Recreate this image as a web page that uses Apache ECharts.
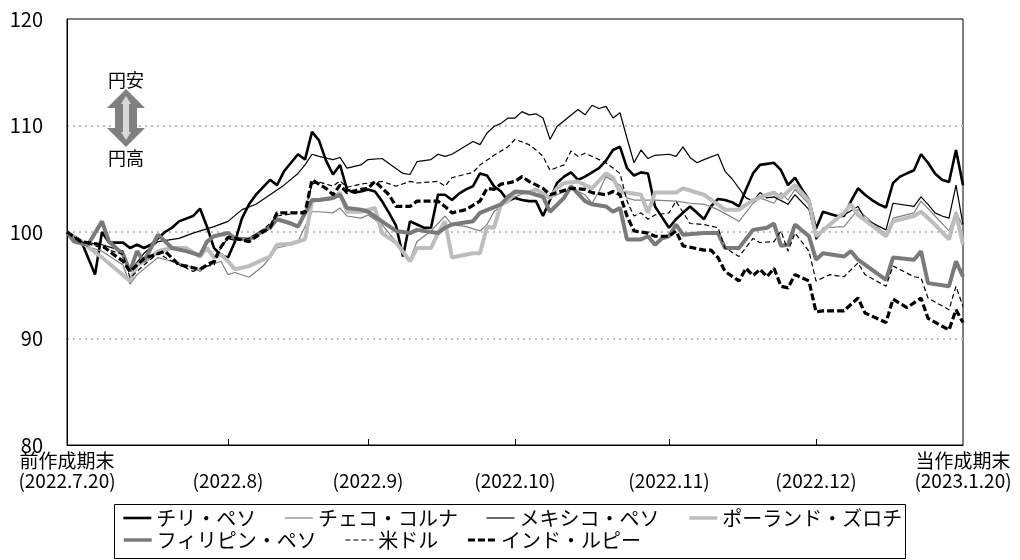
<!DOCTYPE html>
<html lang="ja">

<head>
  <meta charset="UTF-8">
  <title>通貨の推移</title>
  <style>
    html, body { margin: 0; padding: 0; background: #fff; }
    #chart { width: 1020px; height: 560px; }
  </style>
</head>

<body>
  <div id="chart"></div>
</body>
<script src="https://cdn.jsdelivr.net/npm/echarts@6/dist/echarts.min.js"></script>
<script>
  // 営業日インデックス 0〜128（前作成期末〜当作成期末）
  var dayCount = 129;
  var tickIdx = [0, 23, 43, 64, 86, 107, 128];
  var tickLabels = ['前作成期末\n(2022.7.20)', '\n(2022.8)', '\n(2022.9)', '\n(2022.10)',
    '\n(2022.11)', '\n(2022.12)', '当作成期末\n(2023.1.20)'];
  var yTicks = [80, 90, 100, 110, 120];

  var names = ['チリ・ペソ', 'チェコ・コルナ', 'メキシコ・ペソ', 'ポーランド・ズロチ',
    'フィリピン・ペソ', '米ドル', 'インド・ルピー'];

  // [日インデックス, 指数]
  var chile = [[0, 100], [2, 99.2], [4, 96.0], [5, 100.0], [6, 99.0], [8, 99.0], [9, 98.5], [10, 98.8], [11, 98.5],
    [12, 98.8], [14, 100.0], [15, 100.4], [16, 101.0], [18, 101.5], [19, 102.2], [20, 100.5], [21, 98.5], [22, 97.8],
    [23, 97.6], [24, 99.1], [25, 101.3], [26, 102.6], [27, 103.5], [29, 104.9], [30, 104.4], [31, 105.7], [33, 107.3],
    [34, 106.8], [35, 109.4], [36, 108.6], [37, 106.7], [38, 105.4], [39, 106.3], [40, 104.0], [41, 103.7], [42, 103.8],
    [43, 104.0], [44, 103.8], [45, 102.9], [46, 101.8], [47, 100.6], [48, 97.7], [49, 101.0], [50, 100.7], [51, 100.4],
    [52, 100.4], [53, 103.5], [54, 103.5], [55, 103.0], [56, 103.6], [57, 104.0], [58, 104.3], [59, 105.5], [60, 105.3],
    [61, 104.3], [62, 103.8], [63, 102.9], [64, 103.2], [65, 103.0], [66, 102.9], [67, 102.9], [68, 101.5], [69, 103.0],
    [70, 104.6], [71, 105.2], [72, 105.6], [73, 104.9], [74, 105.2], [75, 105.6], [76, 106.0], [77, 106.7], [78, 107.7],
    [79, 108.0], [80, 106.0], [81, 105.3], [82, 105.6], [83, 105.5], [84, 102.4], [85, 101.4], [86, 100.4], [87, 101.2],
    [88, 101.8], [89, 102.4], [90, 101.8], [91, 101.2], [92, 102.4], [93, 103.1], [94, 103.0], [95, 102.8], [96, 102.4],
    [97, 104.0], [98, 105.5], [99, 106.3], [100, 106.4], [101, 106.5], [102, 105.8], [103, 104.4], [104, 105.1],
    [105, 104.0], [106, 103.0], [107, 100.3], [108, 101.9], [109, 101.7], [110, 101.5], [111, 101.5], [112, 102.9],
    [113, 104.1], [114, 103.5], [115, 103.0], [116, 102.6], [117, 102.3], [118, 104.6], [119, 105.2], [120, 105.5],
    [121, 105.8], [122, 107.3], [123, 106.5], [124, 105.5], [125, 104.9], [126, 104.7], [127, 107.7], [128, 104.4]];

  var czech = [[0, 100], [2, 98.8], [5, 98.2], [8, 96.9], [9, 95.1], [10, 96.0], [13, 97.6], [15, 97.25], [17, 96.9],
    [19, 96.3], [20, 96.8], [22, 97.25], [23, 96.0], [24, 96.2], [26, 95.75], [28, 96.8], [29, 97.6], [30, 98.5],
    [32, 98.8], [33, 99.1], [35, 101.9], [36, 101.9], [38, 101.8], [39, 102.25], [40, 101.5], [42, 101.3], [43, 101.6],
    [45, 100.7], [47, 99.1], [48, 98.0], [49, 97.4], [50, 99.1], [52, 100.1], [54, 101.5], [55, 100.7], [57, 100.5],
    [59, 100.1], [60, 100.7], [61, 101.9], [63, 103.0], [64, 103.3], [66, 103.8], [69, 103.2], [70, 103.5], [72, 104.1],
    [74, 103.5], [75, 102.7], [76, 103.8], [77, 105.2], [79, 104.4], [80, 103.2], [81, 103.0], [83, 103.0], [84, 103.0],
    [87, 102.9], [89, 102.7], [91, 102.6], [93, 102.1], [96, 101.0], [98, 102.7], [99, 103.2], [101, 102.7], [102, 103.7],
    [103, 103.0], [104, 104.0], [106, 102.6], [107, 99.4], [108, 100.4], [111, 100.5], [113, 102.1], [117, 99.75],
    [118, 101.3], [121, 101.8], [122, 102.9], [124, 101.5], [126, 100.1], [127, 101.9], [128, 100.5]];

  var mexico = [[0, 100], [2, 99.1], [5, 98.8], [8, 98.2], [9, 96.3], [11, 98.0], [13, 99.1], [16, 99.4], [18, 99.9],
    [21, 100.5], [23, 101.0], [25, 102.1], [27, 102.6], [29, 103.5], [31, 104.4], [33, 105.5], [34, 106.3], [35, 107.3],
    [36, 107.1], [38, 106.8], [39, 107.0], [40, 106.0], [42, 106.3], [43, 106.8], [45, 106.9], [48, 105.5], [49, 105.4],
    [50, 106.6], [52, 106.8], [53, 107.3], [54, 107.1], [55, 107.3], [56, 107.7], [58, 108.5], [59, 108.2], [60, 109.3],
    [61, 109.9], [62, 110.2], [63, 110.7], [64, 110.7], [65, 111.3], [66, 111.0], [67, 111.1], [68, 110.7], [69, 108.7],
    [70, 109.9], [73, 111.5], [74, 111.0], [75, 111.9], [76, 111.6], [77, 111.8], [78, 110.7], [79, 111.2], [80, 108.8],
    [81, 106.5], [82, 107.7], [83, 106.9], [84, 107.2], [86, 107.3], [87, 107.1], [88, 108.0], [89, 107.0], [90, 106.5],
    [91, 106.8], [93, 107.3], [94, 105.7], [95, 105.0], [97, 103.2], [98, 102.9], [99, 103.7], [100, 103.2],
    [101, 103.3], [103, 102.6], [104, 103.5], [106, 102.1], [107, 99.3], [109, 100.8], [111, 101.6], [113, 102.4],
    [114, 101.2], [117, 100.2], [118, 102.7], [121, 102.4], [122, 103.3], [123, 102.6], [124, 101.8], [125, 101.5],
    [126, 101.3], [127, 104.4], [128, 100.7]];

  var poland = [[0, 100], [2, 99.1], [5, 97.6], [9, 95.4], [10, 96.9], [12, 97.6], [13, 98.2], [15, 98.5], [17, 98.5],
    [19, 97.7], [20, 98.5], [21, 97.6], [22, 97.9], [23, 97.25], [24, 96.5], [26, 96.8], [28, 97.4], [29, 97.7],
    [30, 98.8], [32, 98.9], [34, 99.3], [35, 102.9], [36, 103.0], [38, 103.2], [39, 103.7], [40, 101.9], [42, 101.9],
    [44, 102.25], [45, 99.9], [47, 99.0], [49, 97.25], [50, 98.5], [52, 98.5], [53, 99.9], [54, 101.0], [55, 97.6],
    [58, 98.0], [59, 98.0], [60, 100.5], [61, 100.4], [62, 102.6], [63, 102.9], [64, 103.7], [66, 103.7], [67, 104.0],
    [69, 103.2], [70, 104.1], [71, 104.6], [73, 104.75], [74, 104.4], [75, 104.1], [77, 105.5], [78, 105.1],
    [79, 103.7], [80, 103.7], [82, 103.5], [83, 101.8], [84, 103.7], [87, 103.7], [88, 104.1], [91, 103.5],
    [94, 102.1], [96, 102.1], [98, 103.0], [100, 103.5], [101, 103.7], [102, 103.2], [103, 103.8], [104, 104.4],
    [106, 102.9], [107, 99.6], [109, 100.7], [111, 101.8], [112, 102.6], [113, 101.6], [117, 99.6], [118, 101.0],
    [121, 101.5], [122, 101.9], [124, 100.7], [126, 99.3], [127, 101.8], [128, 98.8]];

  var philippines = [[0, 100], [1, 99.1], [3, 98.8], [5, 101.0], [6, 99.1], [8, 97.9], [9, 96.3], [10, 98.2],
    [11, 97.25], [13, 99.75], [15, 98.5], [17, 98.2], [19, 97.8], [20, 99.1], [21, 99.6], [23, 99.9], [24, 99.4],
    [26, 99.3], [28, 100.1], [29, 100.4], [30, 101.2], [32, 100.8], [33, 100.5], [35, 103.0], [36, 103.0], [38, 103.2],
    [39, 103.5], [40, 102.25], [42, 102.1], [43, 101.9], [45, 101.0], [47, 100.1], [49, 99.9], [50, 100.2], [53, 99.9],
    [54, 100.4], [55, 100.7], [58, 101.0], [59, 101.8], [62, 102.6], [63, 103.3], [64, 103.8], [66, 103.7], [67, 103.5],
    [68, 103.3], [69, 101.9], [71, 103.2], [72, 104.3], [74, 102.9], [75, 102.6], [77, 102.4], [78, 101.9],
    [79, 102.25], [80, 99.3], [82, 99.3], [83, 99.6], [84, 98.8], [85, 99.4], [86, 99.6], [87, 100.7], [88, 99.75],
    [91, 99.9], [93, 99.9], [94, 98.5], [96, 98.5], [98, 100.2], [100, 100.4], [101, 100.8], [102, 98.7], [103, 98.8],
    [104, 100.7], [106, 99.6], [107, 97.4], [108, 98.0], [111, 97.7], [112, 98.2], [113, 97.4], [117, 95.5],
    [118, 97.6], [121, 97.4], [122, 98.2], [123, 95.2], [126, 94.9], [127, 97.25], [128, 95.8]];

  var usd = [[0, 100], [2, 99.1], [5, 98.5], [8, 97.9], [9, 95.7], [11, 96.9], [13, 98.0], [15, 97.25], [18, 96.3],
    [20, 96.8], [21, 96.9], [22, 98.6], [23, 99.4], [24, 99.2], [26, 99.4], [28, 100.2], [29, 100.8], [30, 101.5],
    [32, 101.7], [34, 102.0], [35, 104.5], [36, 104.7], [38, 104.3], [39, 104.8], [40, 104.2], [42, 104.5],
    [45, 104.75], [47, 104.3], [49, 104.75], [50, 104.6], [53, 104.75], [54, 104.3], [55, 105.1], [58, 105.6],
    [59, 106.3], [61, 107.2], [63, 108.0], [64, 108.7], [66, 108.2], [67, 107.7], [68, 107.1], [69, 105.8],
    [71, 106.3], [72, 107.6], [73, 107.1], [74, 107.4], [77, 106.5], [78, 106.0], [79, 105.5], [80, 102.9],
    [81, 101.5], [82, 101.8], [83, 101.2], [84, 101.6], [86, 101.8], [87, 102.9], [89, 100.8], [91, 100.7],
    [93, 100.4], [94, 98.5], [96, 97.7], [98, 99.4], [99, 99.0], [101, 99.1], [102, 100.1], [103, 98.2], [104, 99.9],
    [106, 98.2], [107, 95.4], [109, 96.0], [111, 95.8], [113, 97.1], [114, 96.0], [117, 94.9], [118, 96.8],
    [121, 95.8], [122, 95.7], [123, 93.8], [126, 92.7], [127, 94.9], [128, 93.0]];

  var india = [[0, 100], [2, 99.1], [5, 98.8], [6, 98.2], [8, 97.25], [9, 96.3], [11, 97.5], [14, 98.2], [16, 96.9],
    [17, 96.8], [19, 96.5], [20, 96.9], [21, 97.25], [22, 98.6], [23, 99.5], [24, 99.4], [26, 99.1], [28, 100.0],
    [29, 100.4], [30, 101.8], [34, 101.8], [35, 104.9], [37, 104.1], [38, 103.5], [39, 104.4], [40, 103.7],
    [42, 104.0], [43, 104.1], [44, 104.75], [46, 103.5], [47, 102.4], [49, 102.4], [50, 102.9], [53, 102.9],
    [54, 102.4], [55, 101.8], [57, 102.1], [59, 102.9], [60, 104.1], [61, 104.0], [62, 104.5], [63, 104.6],
    [64, 104.75], [65, 105.2], [66, 104.75], [68, 104.1], [69, 103.5], [70, 103.7], [72, 104.1], [74, 104.0],
    [75, 103.7], [77, 103.5], [78, 103.8], [79, 103.5], [80, 101.5], [81, 100.1], [83, 99.9], [84, 99.6], [86, 99.6],
    [87, 100.1], [88, 98.7], [91, 98.3], [92, 98.3], [93, 97.6], [94, 96.3], [96, 95.4], [97, 96.6], [98, 95.9],
    [99, 96.5], [100, 95.8], [101, 96.6], [102, 94.9], [103, 94.75], [104, 96.0], [106, 95.4], [107, 92.5],
    [108, 92.6], [111, 92.6], [113, 93.8], [114, 92.4], [117, 91.5], [118, 93.7], [120, 92.9], [122, 93.8],
    [123, 91.9], [126, 90.8], [127, 92.7], [128, 91.5]];

  var FONT = '"Noto Sans CJK JP", "Noto Sans", sans-serif';

  // 軸のカテゴリ（目盛の位置だけラベルを持つ）
  var categories = [];
  for (var i = 0; i < dayCount; i++) {
    var k = tickIdx.indexOf(i);
    categories.push(k >= 0 ? tickLabels[k] : '');
  }

  var styles = [
    { color: '#000000', width: 2.6, type: 'solid' },
    { color: '#808080', width: 1.2, type: 'solid' },
    { color: '#000000', width: 1.2, type: 'solid' },
    { color: '#bdbdbd', width: 4, type: 'solid' },
    { color: '#7a7a7a', width: 4, type: 'solid' },
    { color: '#000000', width: 1.2, type: [5, 3] },
    { color: '#000000', width: 3.2, type: [7, 3] }
  ];
  var allData = [chile, czech, mexico, poland, philippines, usd, india];

  var series = names.map(function (n, i) {
    return {
      name: n,
      type: 'line',
      data: allData[i],
      symbol: 'none',
      smooth: false,
      lineStyle: { color: styles[i].color, width: styles[i].width, type: styles[i].type },
      itemStyle: { color: styles[i].color }
    };
  });

  // 凡例は線だけ（丸い記号は消す）
  function legendItems(list) {
    return list.map(function (n) {
      var s = styles[names.indexOf(n)];
      return {
        name: n,
        lineStyle: { width: Math.min(s.width, 3.5), type: s.type, color: s.color },
        itemStyle: { color: 'rgba(0,0,0,0)', borderWidth: 0, opacity: 0 }
      };
    });
  }

  var legendBase = {
    left: 122,
    itemWidth: 28,
    itemHeight: 14,
    itemGap: 28,
    padding: 0,
    selectedMode: false,
    textStyle: { fontSize: 20, lineHeight: 22, color: '#000', fontFamily: FONT }
  };

  var option = {
    animation: false,
    backgroundColor: '#fff',
    textStyle: { fontFamily: FONT },
    grid: { left: 67, right: 57, top: 19, bottom: 115, show: true, borderColor: '#000', borderWidth: 1 },
    legend: [
      Object.assign({}, legendBase, { top: 507, data: legendItems(names.slice(0, 4)) }),
      Object.assign({}, legendBase, { top: 529, data: legendItems(names.slice(4)) })
    ],
    xAxis: {
      type: 'category',
      data: categories,
      boundaryGap: false,
      axisLine: { lineStyle: { color: '#000', width: 1 } },
      axisTick: {
        inside: true,
        length: 6,
        lineStyle: { color: '#000' },
        interval: function (idx) { return tickIdx.indexOf(idx) > 0 && idx < dayCount - 1; }
      },
      axisLabel: {
        interval: function (idx) { return tickIdx.indexOf(idx) >= 0; },
        color: '#000',
        fontSize: 19,
        lineHeight: 20,
        margin: 6,
        fontFamily: FONT,
        showMinLabel: true,
        showMaxLabel: true
      },
      splitLine: { show: false }
    },
    yAxis: {
      type: 'value',
      min: yTicks[0],
      max: yTicks[yTicks.length - 1],
      interval: 10,
      axisLine: { show: true, lineStyle: { color: '#000', width: 1 } },
      axisTick: { show: false },
      axisLabel: { color: '#000', fontSize: 20, margin: 24, fontFamily: FONT },
      splitLine: {
        show: true,
        showMinLine: false,
        showMaxLine: false,
        lineStyle: { color: '#bfbfbf', width: 2, type: [2, 4] }
      }
    },
    graphic: [
      // 凡例の枠
      {
        type: 'rect', z: 1, silent: true,
        shape: { x: 114.5, y: 504.5, width: 791, height: 54 },
        style: { fill: 'none', stroke: '#000', lineWidth: 1 }
      },
      // 円安・円高の矢印
      {
        type: 'polygon', z: 10, silent: true,
        shape: {
          points: [[126, 89], [145, 108], [137, 108], [137, 128], [145, 128], [126, 147],
            [107, 128], [115, 128], [115, 108], [107, 108]]
        },
        style: { fill: '#808080' }
      },
      {
        type: 'polygon', z: 11, silent: true,
        shape: {
          points: [[126, 96], [131, 104], [129, 104], [129, 132], [131, 132], [126, 140],
            [121, 132], [123, 132], [123, 104], [121, 104]]
        },
        style: { fill: '#d9d9d9' }
      },
      {
        type: 'text', z: 10, silent: true, x: 126, y: 80,
        style: { text: '円安', fontSize: 18, fontFamily: FONT, fill: '#000', align: 'center', verticalAlign: 'middle' }
      },
      {
        type: 'text', z: 10, silent: true, x: 126, y: 158,
        style: { text: '円高', fontSize: 18, fontFamily: FONT, fill: '#000', align: 'center', verticalAlign: 'middle' }
      }
    ],
    series: series
  };

  var chart = echarts.init(document.getElementById('chart'), null, { renderer: 'canvas' });
  chart.setOption(option);
</script>

</html>
